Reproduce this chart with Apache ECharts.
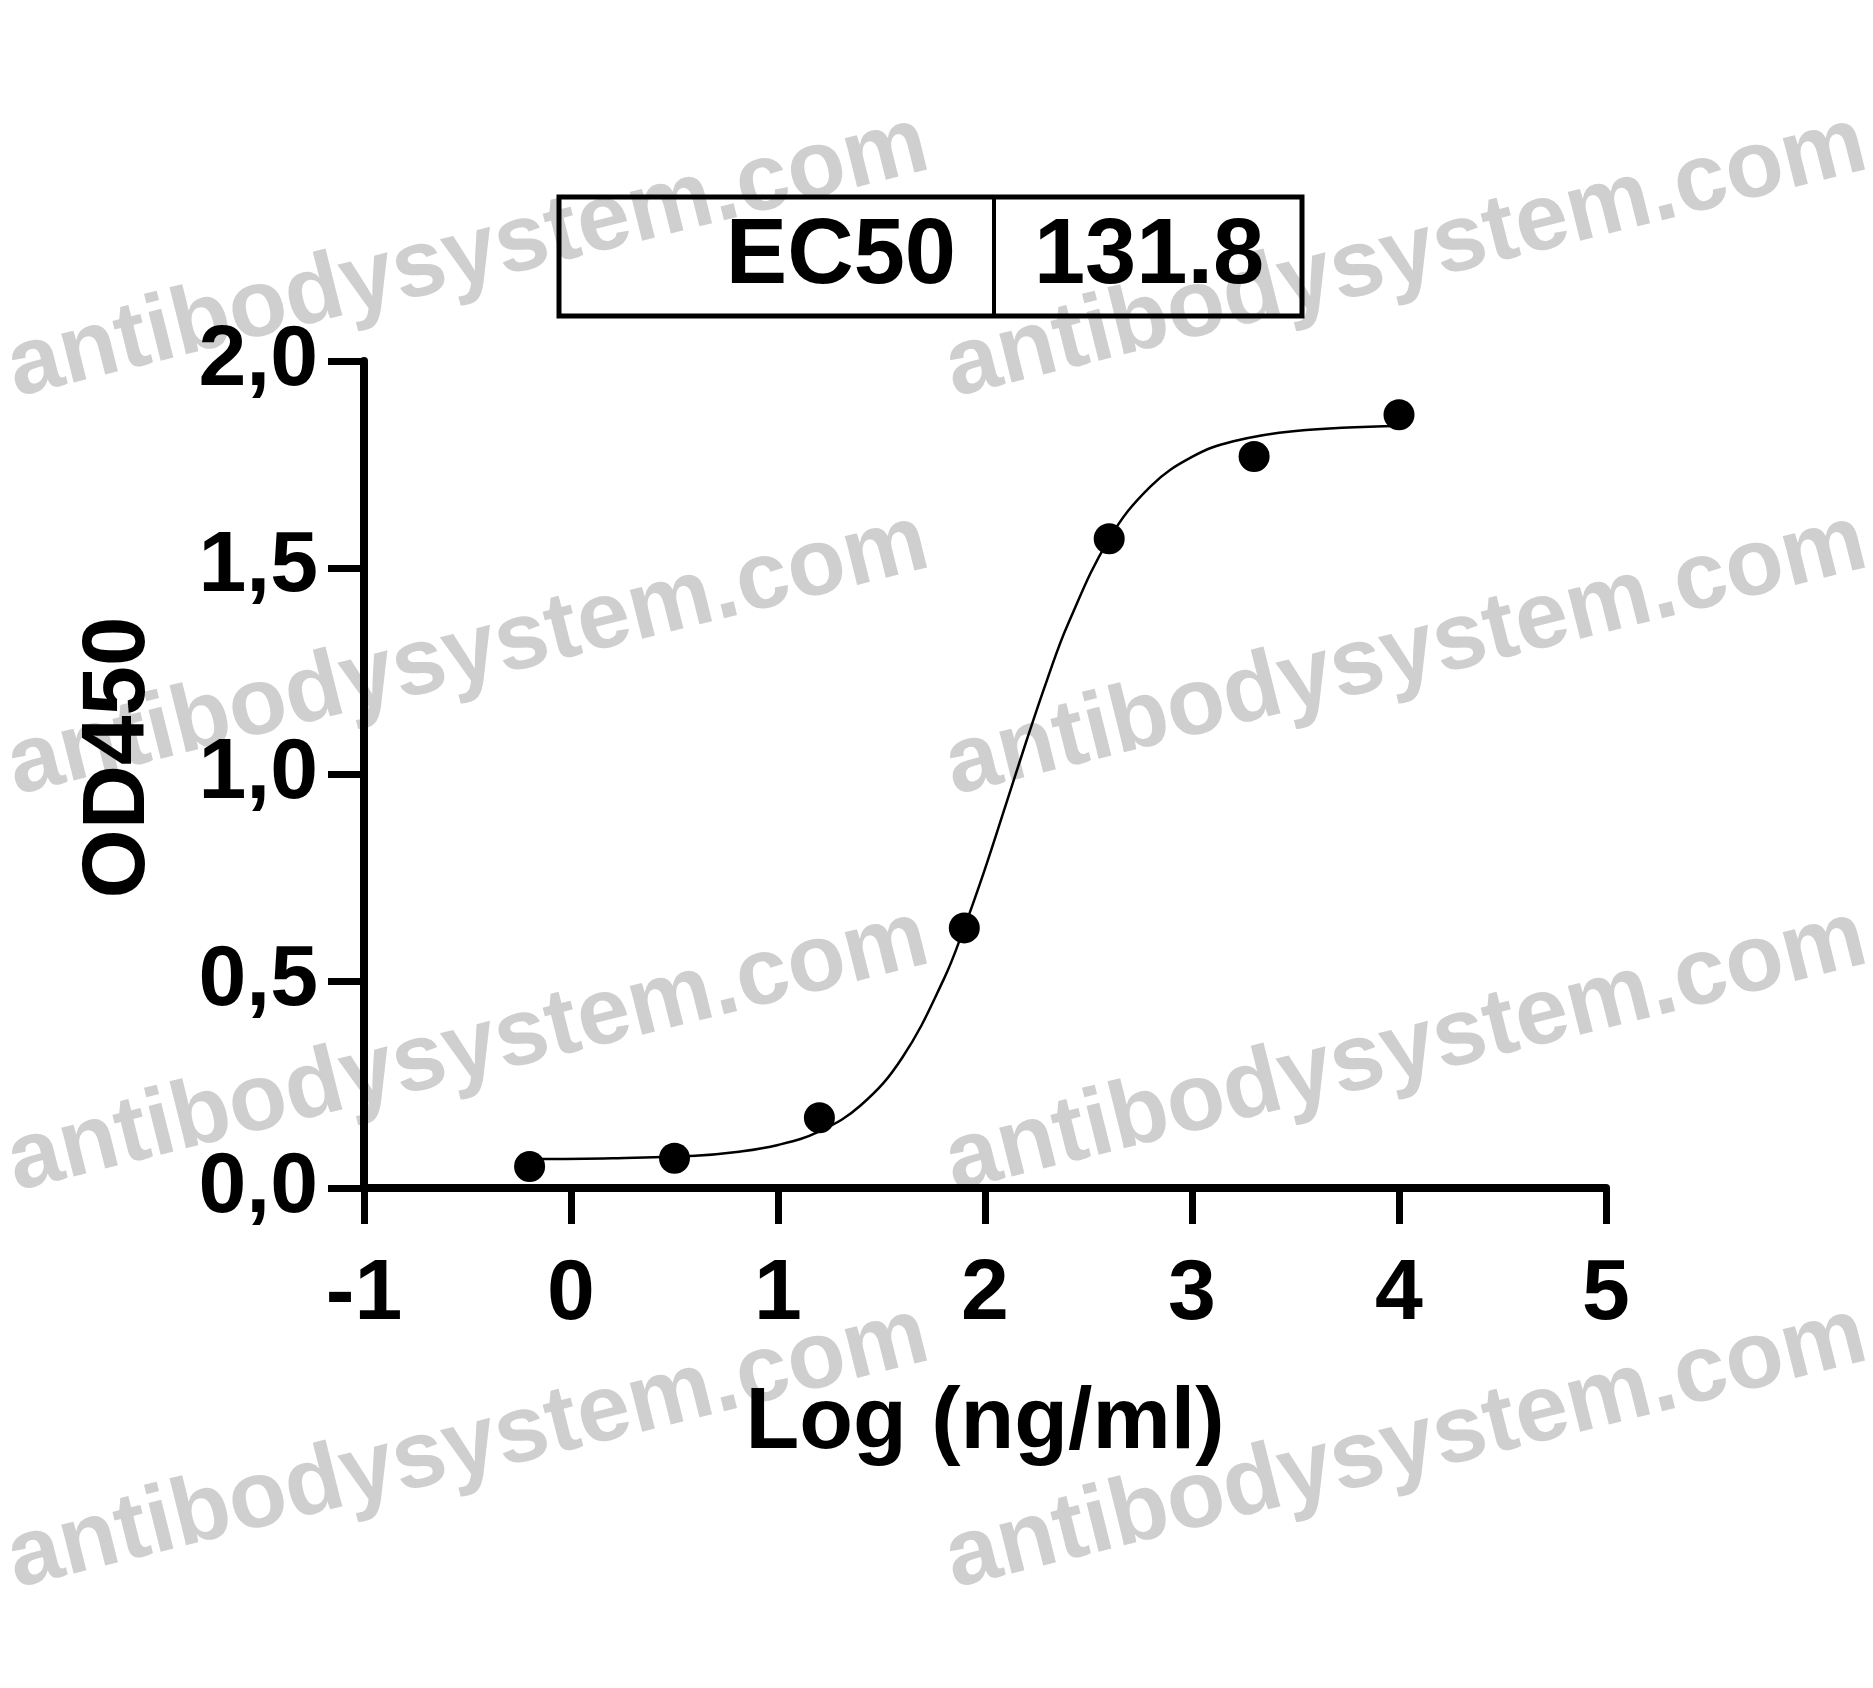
<!DOCTYPE html>
<html>
<head>
<meta charset="utf-8">
<script src="https://cdn.jsdelivr.net/npm/echarts@6/dist/echarts.min.js"></script>
<style>
html,body{margin:0;padding:0;background:#fff;}
#chart{width:1873px;height:1688px;}
</style>
</head>
<body>
<div id="chart"></div>
<script>
// Measured points: log concentration vs OD450
const logConc = [-0.2, 0.5, 1.2, 1.9, 2.6, 3.3, 4.0];
const od450 = [0.052, 0.072, 0.170, 0.629, 1.570, 1.769, 1.870];
// Fitted curve
const curveX = [-0.2, 0.2, 0.6, 0.8, 1.0, 1.2, 1.4, 1.6, 1.8, 1.9, 2.0, 2.1, 2.2, 2.3, 2.4, 2.6, 2.8, 3.0, 3.2, 3.5, 4.0];
const curveY = [0.070, 0.072, 0.078, 0.087, 0.104, 0.137, 0.200, 0.315, 0.504, 0.630, 0.772, 0.926, 1.081, 1.229, 1.363, 1.570, 1.697, 1.768, 1.806, 1.831, 1.843];
const xTicks = [-1, 0, 1, 2, 3, 4, 5];
const yTicks = [0, 0.5, 1.0, 1.5, 2.0];
const ec50Label = 'EC50';
const ec50Value = '131.8';
const xTitle = 'Log (ng/ml)';
const yTitle = 'OD450';
const watermark = 'antibodysystem.com';

const FONT = '"Liberation Sans", Arial, Helvetica, sans-serif';
const chart = echarts.init(document.getElementById('chart'));

const wmCols = [468, 1406];
const wmRows = [257, 655, 1051, 1448];
const wmEls = [];
wmRows.forEach(function (y) {
  wmCols.forEach(function (x) {
    wmEls.push({
      type: 'text', x: x, y: y, rotation: 14 * Math.PI / 180, z: -10, silent: true,
      style: { text: watermark, fill: '#cfcfcf', font: 'bold 95px ' + FONT, align: 'center', verticalAlign: 'middle' }
    });
  });
});

chart.setOption({
  backgroundColor: '#ffffff',
  animation: false,
  grid: { left: 364, top: 361, width: 1242, height: 827, containLabel: false },
  xAxis: {
    type: 'value', min: xTicks[0], max: xTicks[xTicks.length - 1], interval: 1,
    name: xTitle, nameLocation: 'middle', nameGap: 192,
    nameTextStyle: { fontFamily: FONT, fontWeight: 'bold', fontSize: 88, color: '#000' },
    axisLine: { onZero: false, lineStyle: { color: '#000', width: 8 } },
    axisTick: { show: true, length: 36, lineStyle: { color: '#000', width: 7 } },
    axisLabel: { margin: 64, fontFamily: FONT, fontWeight: 'bold', fontSize: 86, color: '#000' },
    splitLine: { show: false }
  },
  yAxis: {
    type: 'value', min: yTicks[0], max: yTicks[yTicks.length - 1], interval: 0.5,
    name: yTitle, nameLocation: 'middle', nameGap: 200, nameRotate: 90,
    nameTextStyle: { fontFamily: FONT, fontWeight: 'bold', fontSize: 89, color: '#000', padding: [0, 0, 0, 34] },
    axisLine: { show: true, onZero: false, lineStyle: { color: '#000', width: 8 } },
    axisTick: { show: true, length: 36, lineStyle: { color: '#000', width: 7 } },
    axisLabel: {
      margin: 46, fontFamily: FONT, fontWeight: 'bold', fontSize: 86, color: '#000',
      formatter: function (v) { return v.toFixed(1).replace('.', ','); }
    },
    splitLine: { show: false }
  },
  series: [
    {
      type: 'line', data: curveX.map(function (x, i) { return [x, curveY[i]]; }),
      smooth: 0.4, showSymbol: false, symbol: 'none',
      lineStyle: { color: '#000', width: 2.5 }, z: 3, silent: true
    },
    {
      type: 'scatter', data: logConc.map(function (x, i) { return [x, od450[i]]; }),
      symbol: 'circle', symbolSize: 31, itemStyle: { color: '#000', opacity: 1 }, z: 4
    }
  ],
  graphic: wmEls.concat([
    { type: 'rect', shape: { x: 559, y: 197, width: 743, height: 119 }, style: { fill: 'rgba(0,0,0,0)', stroke: '#000', lineWidth: 5 }, z: 10 },
    { type: 'line', shape: { x1: 994, y1: 197, x2: 994, y2: 316 }, style: { stroke: '#000', lineWidth: 4 }, z: 10 },
    { type: 'text', x: 956, y: 258, z: 10, style: { text: ec50Label, font: 'bold 92px ' + FONT, fill: '#000', align: 'right', verticalAlign: 'middle' } },
    { type: 'text', x: 1149, y: 258, z: 10, style: { text: ec50Value, font: 'bold 92px ' + FONT, fill: '#000', align: 'center', verticalAlign: 'middle' } }
  ])
});
</script>
</body>
</html>
